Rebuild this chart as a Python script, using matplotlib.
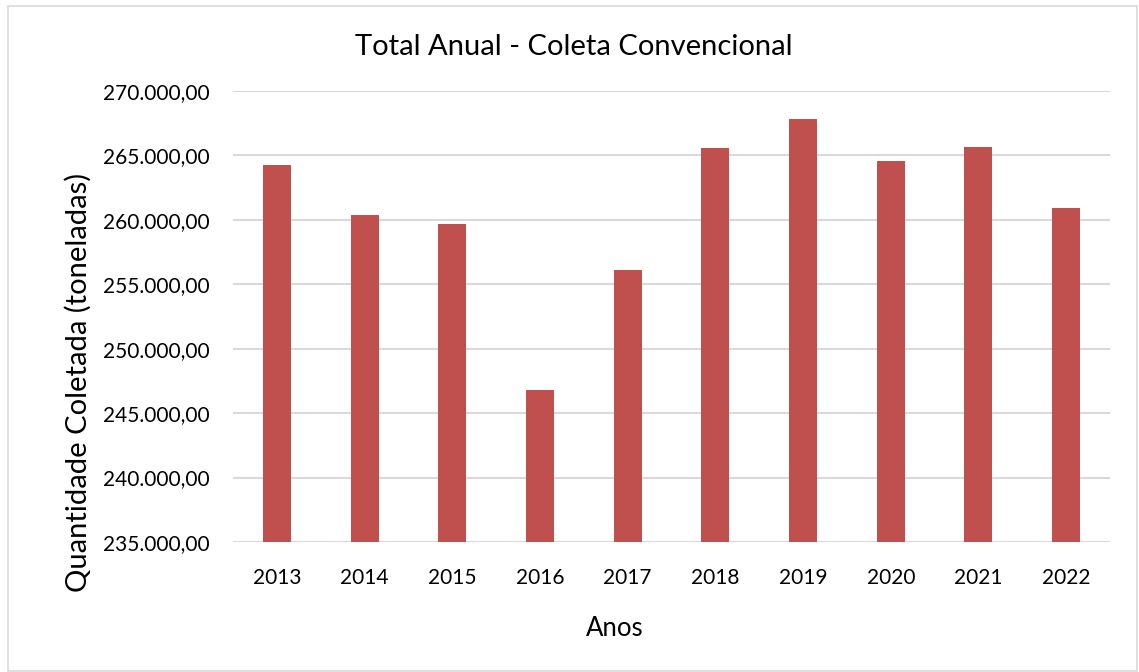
import matplotlib
matplotlib.use("Agg")
import matplotlib.pyplot as plt
from matplotlib.patches import Rectangle
from matplotlib.ticker import FuncFormatter

years = ["2013", "2014", "2015", "2016", "2017", "2018", "2019", "2020", "2021", "2022"]
values = [264250, 260360, 259710, 246780, 256140, 265570, 267820, 264560, 265650, 260890]
y_ticks = [235000, 240000, 245000, 250000, 255000, 260000, 265000, 270000]

plt.rcParams['font.family'] = ['Lato', 'DejaVu Sans']

W, H = 1139, 672
fig = plt.figure(figsize=(W / 100, H / 100), dpi=100)
fig.patch.set_facecolor('white')

# chart border
fig.patches.append(Rectangle((8 / W, 1 - 671 / H), (1137 - 8) / W, (671 - 6) / H,
                             transform=fig.transFigure, fill=False,
                             edgecolor='#D9D9D9', linewidth=1.2))

ax = fig.add_axes([233 / W, 1 - 542 / H, (1110 - 233) / W, (542 - 91) / H])
x = list(range(len(years)))
ax.bar(x, [v - y_ticks[0] for v in values], bottom=y_ticks[0], width=0.32,
       color='#C0504D', zorder=3)
ax.set_xlim(-0.5, len(years) - 0.5)
ax.set_ylim(y_ticks[0], y_ticks[-1])
ax.set_yticks(y_ticks)
ax.yaxis.set_major_formatter(FuncFormatter(
    lambda v, p: f"{v:,.2f}".replace(",", "X").replace(".", ",").replace("X", ".")))
ax.set_xticks(x)
ax.set_xticklabels(years)
ax.grid(axis='y', color='#D9D9D9', linewidth=1.5, zorder=0)
for s in ax.spines.values():
    s.set_visible(False)
ax.tick_params(axis='both', length=0, labelsize=15, colors='#000000')
ax.tick_params(axis='y', pad=17)
ax.tick_params(axis='x', pad=19)

fig.text(574 / W, 1 - 47 / H, "Total Anual - Coleta Convencional", ha='center', va='center',
         fontsize=21)
fig.text(78 / W, 1 - 382 / H, "Quantidade Coletada (toneladas)", ha='center', va='center',
         rotation=90, fontsize=21)
fig.text(615 / W, 1 - 628 / H, "Anos", ha='center', va='center', fontsize=18.5)

fig.savefig("out.png", dpi=100, facecolor='white')
